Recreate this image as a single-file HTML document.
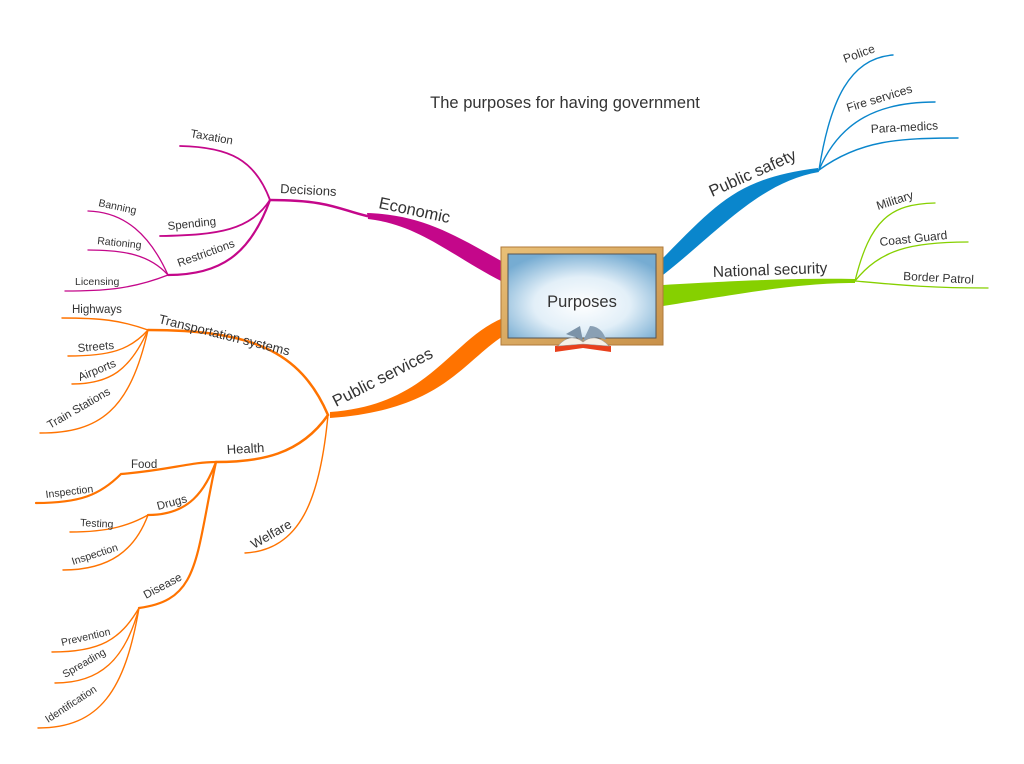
<!DOCTYPE html>
<html><head><meta charset="utf-8"><style>
html,body{margin:0;padding:0;background:#fff;}
svg{display:block;font-family:"Liberation Sans",sans-serif;}
text{fill:#333;}
</style></head><body>
<svg width="1024" height="764" viewBox="0 0 1024 764">
<defs>
<radialGradient id="bg" cx="50%" cy="60%" r="65%">
<stop offset="0" stop-color="#ffffff"/><stop offset="0.5" stop-color="#e2eff8"/><stop offset="1" stop-color="#76acd2"/>
</radialGradient>
<linearGradient id="fr" x1="0" y1="0" x2="1" y2="1"><stop offset="0" stop-color="#e9c078"/><stop offset="1" stop-color="#c8914a"/></linearGradient>
</defs>
<text x="565" y="108" font-size="16.5" text-anchor="middle" fill="#111">The purposes for having government</text>

<!-- Economic -->
<g fill="none" stroke="#c4078a" stroke-linecap="round">
<path d="M503,262 C450,232 420,215 367,213 L368,219 C420,225 450,255 503,282 Z" fill="#c4078a" stroke="none"/>
<path d="M367,216 C340,210 330,200 270,200" stroke-width="2.5"/>
<path d="M270,200 C255,160 230,147 180,146" stroke-width="1.8"/>
<path d="M270,200 C250,230 220,235 160,236" stroke-width="1.8"/>
<path d="M270,200 C250,255 220,275 168,275" stroke-width="2.2"/>
<path d="M168,275 C150,235 125,212 88,211" stroke-width="1.3"/>
<path d="M168,275 C150,255 125,250 88,250" stroke-width="1.3"/>
<path d="M168,275 C130,290 100,291 65,291" stroke-width="1.3"/>
</g>
<text x="378" y="208" font-size="16.5" transform="rotate(12 378 208)">Economic</text>
<text x="280" y="193" font-size="13" transform="rotate(3 280 193)">Decisions</text>
<text x="190" y="137" font-size="11.5" transform="rotate(10 190 137)">Taxation</text>
<text x="168" y="230" font-size="11.5" transform="rotate(-6 168 230)">Spending</text>
<text x="179" y="267" font-size="11.5" transform="rotate(-20 179 267)">Restrictions</text>
<text x="98" y="206" font-size="10.5" transform="rotate(12 98 206)">Banning</text>
<text x="97" y="244" font-size="10.5" transform="rotate(6 97 244)">Rationing</text>
<text x="75" y="285" font-size="10.5">Licensing</text>

<!-- Public services -->
<g fill="none" stroke="#ff7300" stroke-linecap="round">
<path d="M503,318 C450,340 430,405 330,412 L330,418 C440,410 460,365 503,336 Z" fill="#ff7300" stroke="none"/>
<path d="M328,415 C300,350 250,330 148,330" stroke-width="2.5"/>
<path d="M148,330 C120,320 100,318 62,318" stroke-width="1.4"/>
<path d="M148,330 C130,350 110,356 68,356" stroke-width="1.4"/>
<path d="M148,330 C130,370 110,384 72,384" stroke-width="1.4"/>
<path d="M148,330 C130,410 100,433 40,433" stroke-width="1.4"/>
<path d="M328,415 C300,455 260,462 216,462" stroke-width="2.5"/>
<path d="M216,462 C190,462 170,470 121,474 C100,495 80,503 36,503" stroke-width="2.2"/>
<path d="M216,462 C205,490 190,515 148,515" stroke-width="2.2"/>
<path d="M148,515 C130,525 110,532 70,532" stroke-width="1.4"/>
<path d="M148,515 C135,550 110,570 63,570" stroke-width="1.4"/>
<path d="M216,462 C195,560 200,600 139,608" stroke-width="2.2"/>
<path d="M139,608 C120,640 100,652 52,652" stroke-width="1.4"/>
<path d="M139,608 C125,660 100,683 55,683" stroke-width="1.4"/>
<path d="M139,608 C125,690 100,728 38,728" stroke-width="1.4"/>
<path d="M328,415 C320,500 300,550 245,553" stroke-width="1.4"/>
</g>
<text x="336" y="407" font-size="16.5" transform="rotate(-27 336 407)">Public services</text>
<text x="158" y="323" font-size="13" transform="rotate(14 158 323)">Transportation systems</text>
<text x="72" y="313" font-size="11.5">Highways</text>
<text x="78" y="352" font-size="11.5" transform="rotate(-5 78 352)">Streets</text>
<text x="80" y="381" font-size="11.5" transform="rotate(-22 80 381)">Airports</text>
<text x="50" y="429" font-size="11.5" transform="rotate(-30 50 429)">Train Stations</text>
<text x="227" y="454" font-size="13" transform="rotate(-3 227 454)">Health</text>
<text x="131" y="468" font-size="11.5">Food</text>
<text x="46" y="498" font-size="10.5" transform="rotate(-7 46 498)">Inspection</text>
<text x="158" y="510" font-size="11.5" transform="rotate(-15 158 510)">Drugs</text>
<text x="80" y="526" font-size="10.5" transform="rotate(3 80 526)">Testing</text>
<text x="73" y="565" font-size="10.5" transform="rotate(-18 73 565)">Inspection</text>
<text x="146" y="599" font-size="11.5" transform="rotate(-28 146 599)">Disease</text>
<text x="62" y="646" font-size="10.5" transform="rotate(-13 62 646)">Prevention</text>
<text x="65" y="678" font-size="10.5" transform="rotate(-30 65 678)">Spreading</text>
<text x="48" y="723" font-size="10.5" transform="rotate(-33 48 723)">Identification</text>
<text x="254" y="549" font-size="13" transform="rotate(-30 254 549)">Welfare</text>

<!-- Public safety -->
<g fill="none" stroke="#0a86cc" stroke-linecap="round">
<path d="M663,258 C720,200 740,178 818,168 L819,172 C760,182 720,230 663,275 Z" fill="#0a86cc" stroke="none"/>
<path d="M819,170 C830,100 850,58 893,55" stroke-width="1.4"/>
<path d="M819,170 C840,120 880,102 935,102" stroke-width="1.4"/>
<path d="M819,170 C860,140 900,138 958,138" stroke-width="1.4"/>
</g>
<text x="712" y="197" font-size="16.5" transform="rotate(-24 712 197)">Public safety</text>
<text x="845" y="63" font-size="12" transform="rotate(-20 845 63)">Police</text>
<text x="848" y="112" font-size="12" transform="rotate(-17 848 112)">Fire services</text>
<text x="871" y="133" font-size="12" transform="rotate(-3 871 133)">Para-medics</text>

<!-- National security -->
<g fill="none" stroke="#86d000" stroke-linecap="round">
<path d="M663,285 C750,280 800,278 855,279 L855,283 C800,283 750,292 663,306 Z" fill="#86d000" stroke="none"/>
<path d="M855,281 C870,220 890,204 935,203" stroke-width="1.3"/>
<path d="M855,281 C880,250 910,242 968,242" stroke-width="1.3"/>
<path d="M855,281 C900,285 930,288 988,288" stroke-width="1.3"/>
</g>
<text x="713" y="277" font-size="15.5" transform="rotate(-2 713 277)">National security</text>
<text x="878" y="210" font-size="12" transform="rotate(-18 878 210)">Military</text>
<text x="880" y="246" font-size="12" transform="rotate(-6 880 246)">Coast Guard</text>
<text x="903" y="280" font-size="12" transform="rotate(3 903 280)">Border Patrol</text>

<!-- Center -->
<rect x="501" y="247" width="162" height="98" fill="url(#fr)" stroke="#b07a3a" stroke-width="1"/>
<rect x="508" y="254" width="148" height="84" fill="url(#bg)" stroke="#555" stroke-width="1"/>
<text x="582" y="307" font-size="16.5" text-anchor="middle" fill="#333">Purposes</text>
<!-- book -->
<path d="M555,352 L583,348 L611,352 L611,346 L583,343 L555,346 Z" fill="#e8401c"/>
<path d="M558,346 C566,336 576,336 583,342 C590,336 600,336 609,346 L583,344 Z" fill="#f5f0e6" stroke="#999" stroke-width="0.6"/>
<path d="M566,334 L580,326 L583,341 C576,336 570,336 566,334 Z" fill="#7c93a8"/>
<path d="M583,341 L590,326 C598,326 604,332 606,340 C598,336 590,337 583,341 Z" fill="#8aa0b4"/>
</svg>
</body></html>
